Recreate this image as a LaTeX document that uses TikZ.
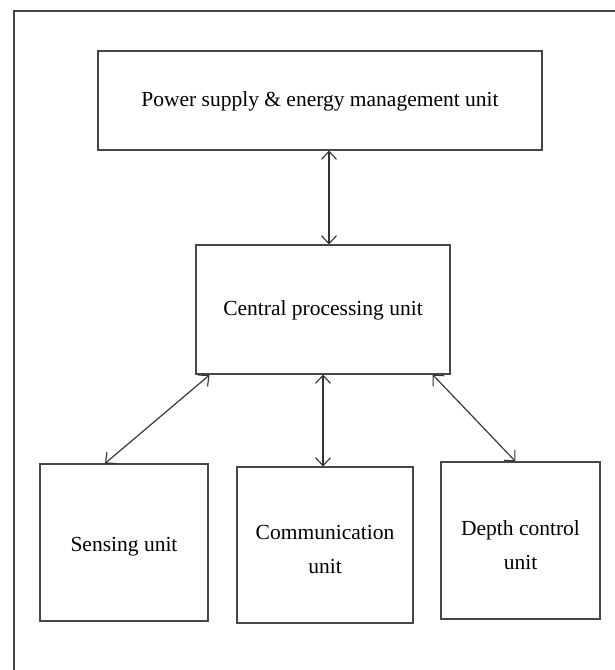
\documentclass[tikz,border=0pt]{standalone}
\usepackage{fontspec}
\setmainfont{Liberation Serif}
\usetikzlibrary{arrows.meta,calc}
\begin{document}
\begin{tikzpicture}[x=1pt,y=-1pt,
  unitbox/.style={draw=black!72,line width=1.1pt,rectangle,inner sep=0pt},
  unittext/.style={align=center,text=black,inner sep=0pt,font=\fontsize{21.5}{34}\selectfont},
  barb/.tip={Straight Barb[length=8pt,width=15pt,line width=1.1pt]},
  link/.style={draw=black!80,line width=1.15pt,barb-barb}]
  \useasboundingbox (0,0) rectangle (615,670);
  % outer frame (open on the right and bottom)
  \draw[draw=black!72,line width=1.1pt] (615,11) -- (14,11) -- (14,670);

  % units
  \node[unitbox,minimum width=444pt,minimum height=99pt] (power) at (320,100.5) {};
  \node[unitbox,minimum width=254pt,minimum height=129pt] (cpu) at (323,309.5) {};
  \node[unitbox,minimum width=168pt,minimum height=157pt] (sense) at (124,542.5) {};
  \node[unitbox,minimum width=176pt,minimum height=156pt] (comm) at (325,545) {};
  \node[unitbox,minimum width=159pt,minimum height=157pt] (depth) at (520.5,540.5) {};

  % unit labels (shifts are canvas pt, so negative moves down)
  \node[unittext] (powerlabel) at ([yshift=-0.5pt]power.center) {Power supply \& energy management unit};
  \node[unittext] (cpulabel) at ([yshift=-0.5pt]cpu.center) {Central processing unit};
  \node[unittext] (senselabel) at ([yshift=-4.5pt]sense.center) {Sensing unit};
  \node[unittext] (commlabel) at ([yshift=-4pt]comm.center) {Communication\\unit};
  \node[unittext] (depthlabel) at ([yshift=-5pt]depth.center) {Depth control\\unit};

  % two-way links
  \draw[link] ([xshift=9pt]power.south) -- ([xshift=6pt]cpu.north);
  \draw[link] ([xshift=14pt,yshift=-0.5pt]cpu.south west) -- ([xshift=-19pt]sense.north);
  \draw[link] (cpu.south) -- ([xshift=-2pt]comm.north);
  \draw[link] ([xshift=-18pt]cpu.south east) -- ([xshift=-5pt]depth.north);
\end{tikzpicture}
\end{document}
